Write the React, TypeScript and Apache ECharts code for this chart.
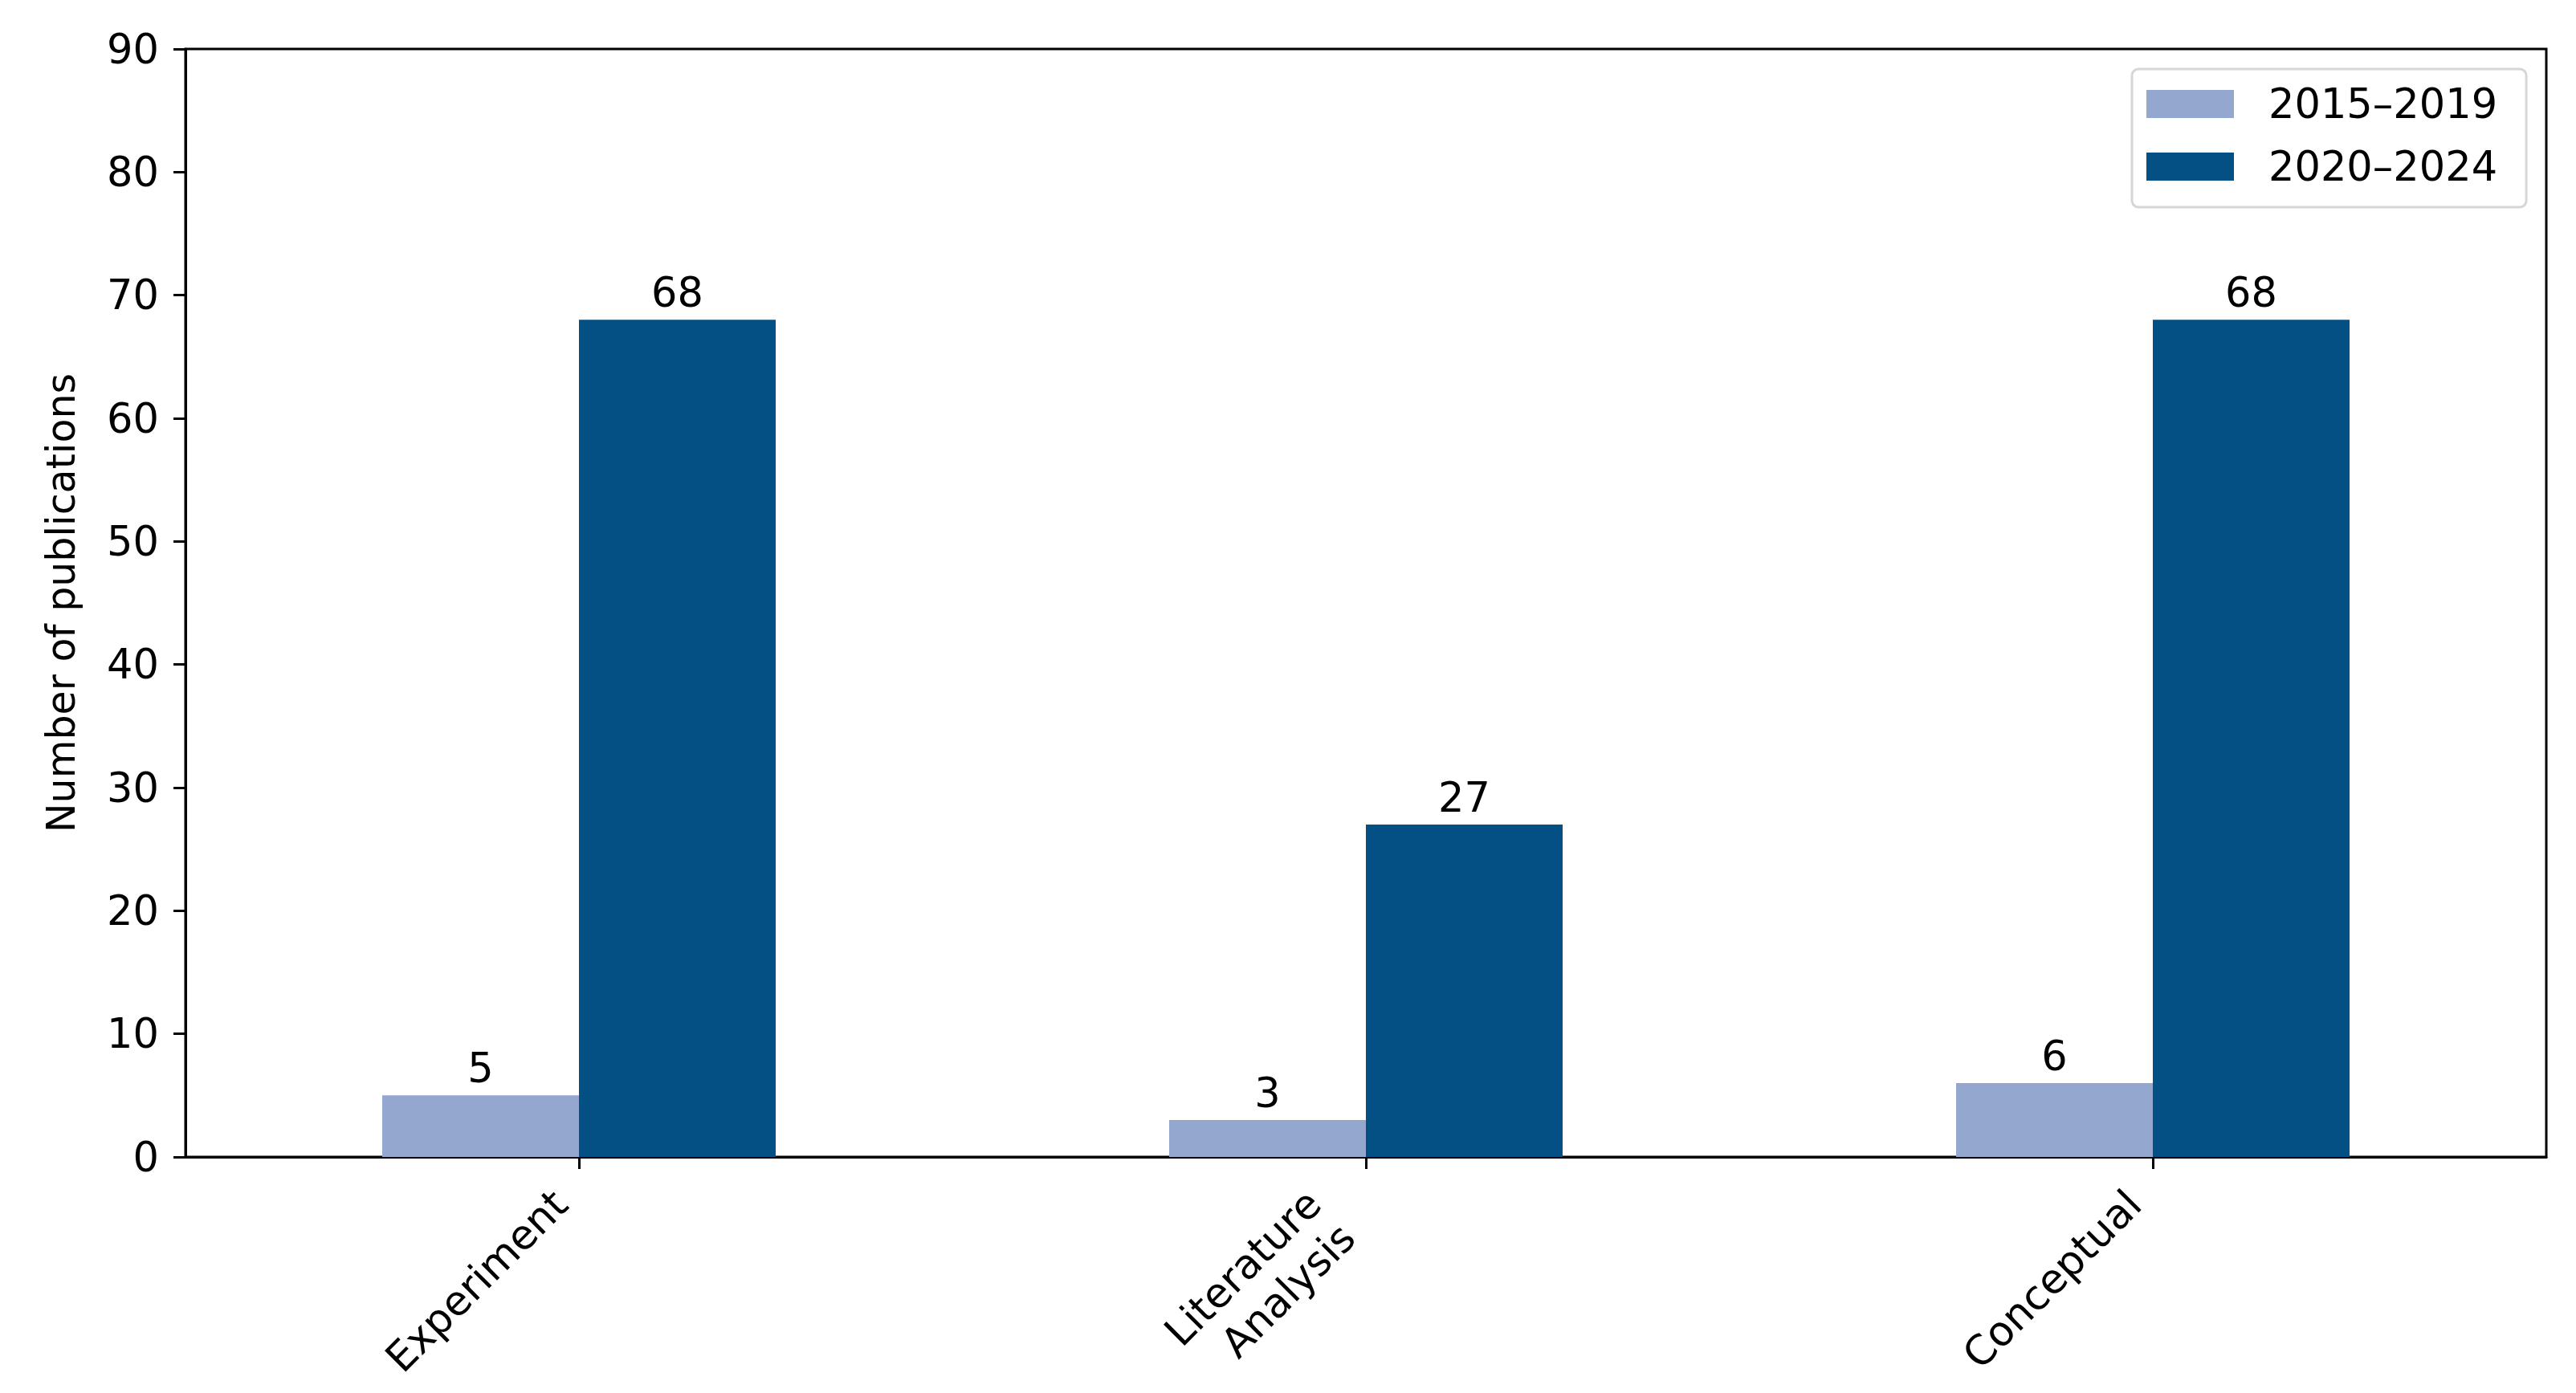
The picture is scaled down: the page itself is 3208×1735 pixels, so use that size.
import React, { useEffect, useRef } from "react";
import * as echarts from "echarts";

const categories = ["Experiment", "Literature\nAnalysis", "Conceptual"];
const seriesNames = ["2015–2019", "2020–2024"];
const values2015 = [5, 3, 6];
const values2020 = [68, 27, 68];
const yMin = 0;
const yMax = 90;
const yInterval = 10;
const colors = ["#93A7CF", "#044F83"];

const FONT = "DejaVu Sans";
const FS = 51;

export default function App() {
  const ref = useRef<HTMLDivElement>(null);
  useEffect(() => {
    if (!ref.current) return;
    const chart = echarts.init(ref.current, null, { renderer: "svg" });
    const labelStyle = {
      show: true,
      position: "top" as const,
      distance: 8,
      color: "#000",
      fontFamily: FONT,
      fontSize: FS,
    };
    chart.setOption({
      animation: false,
      backgroundColor: "#fff",
      textStyle: { fontFamily: FONT },
      grid: {
        left: 231,
        top: 61,
        right: 37,
        bottom: 294,
        containLabel: false,
        show: true,
        borderColor: "#000",
        borderWidth: 3,
        backgroundColor: "transparent",
      },
      legend: {
        orient: "vertical",
        left: 2655,
        top: 86,
        padding: [18, 36, 25, 18],
        itemWidth: 109,
        itemHeight: 35,
        itemGap: 27,
        icon: "rect",
        selectedMode: false,
        backgroundColor: "rgba(255,255,255,0.8)",
        borderColor: "#d6d6d6",
        borderWidth: 3,
        borderRadius: 8,
        textStyle: {
          fontFamily: FONT,
          fontSize: FS,
          color: "#000",
          lineHeight: 35,
          padding: [0, 0, 0, 38],
        },
        data: seriesNames,
      },
      xAxis: {
        type: "category",
        data: categories,
        boundaryGap: true,
        axisLine: { show: true, lineStyle: { color: "#000", width: 3 } },
        axisTick: {
          show: true,
          alignWithLabel: true,
          length: 15,
          lineStyle: { color: "#000", width: 3 },
        },
        axisLabel: {
          rotate: 45,
          margin: 27,
          interval: 0,
          color: "#000",
          fontFamily: FONT,
          fontSize: FS,
          lineHeight: 60,
          formatter: (v: string) =>
            v.includes("\n")
              ? v
                  .split("\n")
                  .map((s) => `{m|${s}}`)
                  .join("\n")
              : `{s|${v}}`,
          rich: {
            s: {
              fontFamily: FONT,
              fontSize: FS,
              color: "#000",
              lineHeight: 60,
              padding: [0, 33, 0, 0],
            },
            m: {
              fontFamily: FONT,
              fontSize: FS,
              color: "#000",
              lineHeight: 60,
              padding: [0, 62, 0, 0],
            },
          },
        },
        splitLine: { show: false },
      },
      yAxis: {
        type: "value",
        min: yMin,
        max: yMax,
        interval: yInterval,
        name: "Number of publications",
        nameLocation: "middle",
        nameGap: 130,
        nameTextStyle: { fontFamily: FONT, fontSize: 49, color: "#000" },
        axisLine: { show: true, lineStyle: { color: "#000", width: 3 } },
        axisTick: { show: true, length: 15, lineStyle: { color: "#000", width: 3 } },
        axisLabel: { margin: 33, color: "#000", fontFamily: FONT, fontSize: FS },
        splitLine: { show: false },
      },
      series: [
        {
          name: seriesNames[0],
          type: "bar",
          data: values2015,
          barWidth: "25%",
          barGap: "0%",
          itemStyle: { color: colors[0] },
          label: labelStyle,
        },
        {
          name: seriesNames[1],
          type: "bar",
          data: values2020,
          barWidth: "25%",
          barGap: "0%",
          itemStyle: { color: colors[1] },
          label: labelStyle,
        },
      ],
    });
    return () => chart.dispose();
  }, []);
  return (
    <div
      ref={ref}
      style={{ position: "fixed", left: 0, top: 0, width: 3208, height: 1735, background: "#fff" }}
    />
  );
}
